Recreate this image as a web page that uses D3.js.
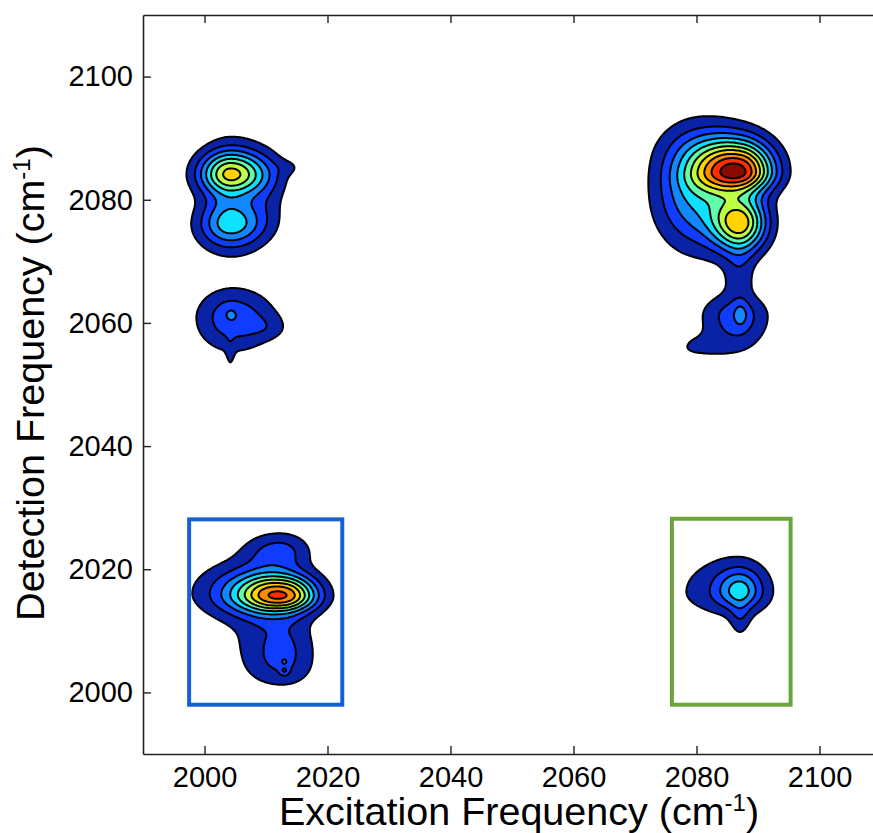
<!DOCTYPE html>
<html>
<head>
<meta charset="utf-8">
<script src="https://cdn.jsdelivr.net/npm/d3@7"></script>
<style>
  body { margin: 0; background: #fff; }
  text { font-family: Helvetica, "Liberation Sans", Arial, sans-serif; fill: #000; }
</style>
</head>
<body>
<svg id="chart" width="873" height="833"></svg>
<script>
// axis ranges and ticks (cm-1)
var xDomain = [1990, 2110];
var yDomain = [1990, 2110];
var xTicks = [2000, 2020, 2040, 2060, 2080, 2100];
var yTicks = [2000, 2020, 2040, 2060, 2080, 2100];

// contour levels (normalised intensity)
var levels = [0.1, 0.2, 0.3, 0.4, 0.5, 0.6, 0.7, 0.8, 0.9, 1.0];

// features: centre (excitation, detection), height,
// and half widths to the left / right / down / up (cm-1)
var peakX   = [2004.2, 2004.5, 2004.2, 2004.3, 2010.5, 2014.0,
               2004.6, 2004.2, 2010.5, 2004.2,
               2087.3, 2080.0, 2083.5, 2087.2, 2087.0, 2086.6, 2087.2, 2080.0,
               2013.3, 2008.0, 2012.3, 2012.6, 2012.6, 2013.0, 2013.0,
               2087.1, 2086.0, 2087.1];
var peakY   = [2084.2, 2083.0, 2076.4, 2073.3, 2082.0, 2085.3,
               2060.8, 2061.6, 2059.2, 2054.5,
               2084.6, 2081.0, 2088.5, 2076.2, 2067.5, 2061.0, 2061.4, 2056.0,
               2015.8, 2016.2, 2023.0, 2009.0, 2004.0, 2005.0, 2003.5,
               2016.6, 2016.3, 2012.0];
var peakAmp = [0.62, 0.12, 0.36, 0.10, 0.07, 0.06,
               0.27, 0.05, 0.07, 0.06,
               0.88, 0.40, 0.10, 0.68, 0.13, 0.26, 0.10, 0.10,
               0.70, 0.30, 0.22, 0.17, 0.15, 0.09, 0.12,
               0.28, 0.18, 0.12];
var peakWl  = [3.6, 3.5, 3.6, 4.0, 2.5, 1.8,
               4.2, 1.0, 2.5, 0.5,
               5.0, 4.6, 6.0, 3.2, 1.8, 4.0, 0.8, 3.0,
               5.0, 6.5, 4.0, 5.5, 4.5, 0.5, 0.5,
               2.6, 7.0, 1.2];
var peakWr  = [4.2, 4.0, 4.2, 4.0, 2.5, 1.8,
               4.8, 1.0, 2.2, 0.5,
               3.8, 5.0, 4.5, 3.0, 1.8, 3.6, 0.8, 5.0,
               3.8, 4.5, 3.5, 3.8, 3.8, 0.5, 0.5,
               2.4, 5.0, 1.2];
var peakWd  = [2.4, 6.0, 2.4, 2.5, 4.0, 1.0,
               3.8, 1.0, 1.3, 2.5,
               2.4, 6.0, 3.0, 3.2, 2.5, 3.4, 1.5, 1.4,
               1.9, 3.0, 2.0, 3.5, 2.6, 0.5, 0.5,
               2.0, 3.0, 2.5];
var peakWu  = [2.6, 6.0, 2.6, 2.5, 4.0, 1.0,
               3.4, 1.0, 1.5, 2.5,
               3.4, 6.5, 3.2, 3.0, 3.5, 2.6, 1.5, 1.6,
               2.4, 3.5, 2.2, 4.5, 3.0, 0.5, 0.5,
               2.4, 4.5, 2.0];

// highlighted regions
var boxX = [[1997.5, 2022.4], [2076.0, 2095.3]];
var boxY = [[1998.0, 2028.1], [1998.0, 2028.2]];

var bandColors = ["#0a22a6", "#0f3cff", "#1188ff", "#0ee0ff", "#5effa8",
                  "#bcff45", "#ffd400", "#ff8a00", "#ff2e00", "#8a0a00"];
var boxColors = ["#1560d8", "#6ba43a"];

var svg = d3.select("#chart");
var mLeft = 143, mRight = 881, mTop = 15, mBottom = 754;

var x = d3.scaleLinear().domain(xDomain).range([mLeft, mRight]);
var y = d3.scaleLinear().domain(yDomain).range([mBottom, mTop]);

// sample the map on a grid
var step = 0.25;
var nx = Math.round((xDomain[1] - xDomain[0]) / step) + 1;
var ny = Math.round((yDomain[1] - yDomain[0]) / step) + 1;
var grid = new Array(nx * ny);
for (var j = 0; j < ny; j++) {
  var yy = yDomain[0] + j * step;
  for (var i = 0; i < nx; i++) {
    var xx = xDomain[0] + i * step;
    var v = 0;
    for (var k = 0; k < peakX.length; k++) {
      var ddx = xx - peakX[k], ddy = yy - peakY[k];
      var dx = ddx / (ddx < 0 ? peakWl[k] : peakWr[k]);
      var dy = ddy / (ddy < 0 ? peakWd[k] : peakWu[k]);
      v += peakAmp[k] * Math.exp(-0.5 * (dx * dx + dy * dy));
    }
    grid[i + j * nx] = v;
  }
}

var contours = d3.contours().size([nx, ny]).thresholds(levels)(grid);

var proj = d3.geoTransform({
  point: function(px, py) {
    this.stream.point(x(xDomain[0] + (px - 0.5) * step), y(yDomain[0] + (py - 0.5) * step));
  }
});
var path = d3.geoPath(proj);

svg.append("clipPath").attr("id", "plotclip")
  .append("rect").attr("x", mLeft).attr("y", mTop)
  .attr("width", mRight - mLeft).attr("height", mBottom - mTop);

svg.append("g")
  .attr("clip-path", "url(#plotclip)")
  .selectAll("path")
  .data(contours)
  .enter()
  .append("path")
  .attr("d", path)
  .attr("fill", function(d, i) { return bandColors[i]; })
  .attr("stroke", "#000")
  .attr("stroke-width", 2)
  .attr("stroke-linejoin", "round");

// boxes
svg.append("g").selectAll("rect")
  .data(boxX)
  .enter()
  .append("rect")
  .attr("x", function(d) { return x(d[0]); })
  .attr("width", function(d) { return x(d[1]) - x(d[0]); })
  .attr("y", function(d, i) { return y(boxY[i][1]); })
  .attr("height", function(d, i) { return y(boxY[i][0]) - y(boxY[i][1]); })
  .attr("fill", "none")
  .attr("stroke", function(d, i) { return boxColors[i]; })
  .attr("stroke-width", 4);

// axes, ticks pointing inside
function styleAxis(g) {
  g.attr("font-size", null).attr("font-family", null);
  g.selectAll(".domain").attr("stroke", "#222").attr("stroke-width", 1.6);
  g.selectAll(".tick line").attr("stroke", "#222").attr("stroke-width", 1.4);
  g.selectAll(".tick text").style("font-size", "29px").attr("fill", "#000");
}

svg.append("g")
  .attr("transform", "translate(0," + mBottom + ")")
  .call(d3.axisBottom(x).tickValues(xTicks).tickFormat(d3.format("d"))
    .tickSize(-8).tickSizeOuter(0).tickPadding(12))
  .call(styleAxis);

svg.append("g")
  .attr("transform", "translate(" + mLeft + ",0)")
  .call(d3.axisLeft(y).tickValues(yTicks).tickFormat(d3.format("d"))
    .tickSize(-8).tickSizeOuter(0).tickPadding(10))
  .call(styleAxis);

svg.append("g")
  .attr("transform", "translate(0," + mTop + ")")
  .call(d3.axisTop(x).tickValues(xTicks).tickFormat("").tickSize(-8).tickSizeOuter(0))
  .call(styleAxis);

svg.append("g")
  .attr("transform", "translate(" + mRight + ",0)")
  .call(d3.axisRight(y).tickValues(yTicks).tickFormat("").tickSize(-8).tickSizeOuter(0))
  .call(styleAxis);

// axis titles, "-1" raised as a superscript
var xt = svg.append("text")
  .attr("x", 519).attr("y", 825)
  .attr("text-anchor", "middle")
  .style("font-size", "39.5px");
xt.append("tspan").text("Excitation Frequency (cm");
xt.append("tspan").attr("dy", -14).style("font-size", "24px").text("-1");
xt.append("tspan").attr("dy", 14).text(")");

var yt = svg.append("text")
  .attr("transform", "translate(44," + 383 + ") rotate(-90)")
  .attr("text-anchor", "middle")
  .style("font-size", "39.5px");
yt.append("tspan").text("Detection Frequency (cm");
yt.append("tspan").attr("dy", -14).style("font-size", "24px").text("-1");
yt.append("tspan").attr("dy", 14).text(")");
</script>
</body>
</html>
